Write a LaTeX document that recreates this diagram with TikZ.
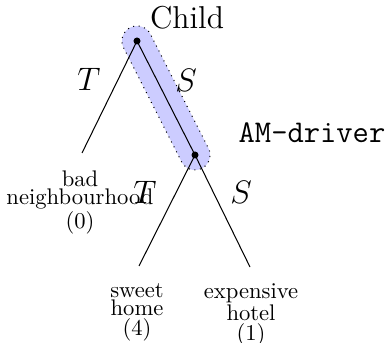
\documentclass[tikz,border=0pt]{standalone}
\usepackage{fontspec}
\usetikzlibrary{shapes.misc}
\begin{document}
\begin{tikzpicture}[x=0.4425pt,y=-0.4425pt,
  edge/.style={line width=0.45pt},
  dot/.style={circle,fill=black,inner sep=0pt,minimum size=3.1pt},
  leaf/.style={align=center,inner sep=0pt,font=\fontsize{10}{0}\selectfont},
  lab/.style={inner sep=0pt,font=\fontsize{14}{17}\selectfont},
  hl/.style={rounded rectangle,draw,dotted,line width=0.45pt,fill=blue!20,minimum height=13.3pt,inner sep=0pt}]
\useasboundingbox (0,0) rectangle (388,343);
\coordinate (pa) at (137,41);
\coordinate (pb) at (195,155);
\path (pa) -- node[hl,sloped,minimum width=69.9pt] (cap) {} (pb);
\coordinate (l0) at (82,153);
\coordinate (l1) at (139,266);
\coordinate (l2) at (250,267);
\draw[edge] (pa) -- (l0);
\draw[edge] (pa) -- (pb);
\draw[edge] (pb) -- (l1);
\draw[edge] (pb) -- (l2);
\node[dot] (a) at (pa) {};
\node[dot] (b) at (pb) {};
\node[lab] (child) at (187,18) {Child};
\node[lab] (t1) at (89,79) {$T$};
\node[lab] (s1) at (186,80) {$S$};
\node[lab,font=\fontsize{14}{17}\selectfont\ttfamily] (drv) at (312,133) {AM-driver};
\node[lab] (t2) at (145,192) {$T$};
\node[lab] (s2) at (241,192) {$S$};
\node[leaf,anchor=north] (n0) at (80,170) {bad\\neighbourhood\\(0)};
\node[leaf,anchor=north] (n1) at (137,283) {sweet\\home\\(4)};
\node[leaf,anchor=north] (n2) at (251,283) {expensive\\hotel\\(1)};
\end{tikzpicture}
\end{document}
